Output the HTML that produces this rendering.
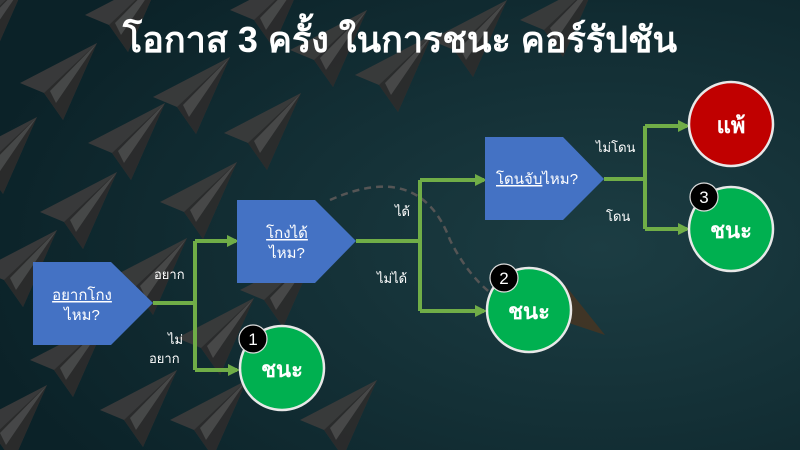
<!DOCTYPE html>
<html><head><meta charset="utf-8"><style>
html,body{margin:0;padding:0;width:800px;height:450px;overflow:hidden;background:#0f2a30}
svg{display:block}
text{font-family:"Liberation Sans","Noto Sans CJK SC","WenQuanYi Zen Hei",sans-serif;fill:#fff}
</style></head><body>
<svg width="800" height="450" viewBox="0 0 800 450" xmlns="http://www.w3.org/2000/svg">
<defs>
<radialGradient id="bg" cx="0.75" cy="0.55" r="0.8">
<stop offset="0" stop-color="#1c3d43"/><stop offset="1" stop-color="#0b2228"/>
</radialGradient>
<g id="pl">
<path d="M77,0 L0,40 L24,50 L43,77 Z" fill="#3b3b3b"/>
<path d="M77,0 L24,50 L43,77 Z" fill="#2c2c2c"/>
<path d="M77,0 L30,48 L36,60 Z" fill="#4a4a4a"/>
</g>
<marker id="ar" markerWidth="12" markerHeight="12" refX="9" refY="6" orient="auto" markerUnits="userSpaceOnUse">
<path d="M0,0 L12,6 L0,12 Z" fill="#70ad47"/></marker>
</defs>
<rect width="800" height="450" fill="url(#bg)"/>
<g opacity="0.95">
<use href="#pl" x="20" y="43"/><use href="#pl" x="153" y="57"/><use href="#pl" x="224" y="93"/>
<use href="#pl" x="290" y="10"/><use href="#pl" x="-40" y="117"/><use href="#pl" x="88" y="103"/>
<use href="#pl" x="-50" y="-20"/><use href="#pl" x="85" y="-25"/><use href="#pl" x="230" y="-30"/>
<use href="#pl" x="355" y="35"/><use href="#pl" x="160" y="162"/><use href="#pl" x="40" y="172"/>
<use href="#pl" x="-20" y="230"/><use href="#pl" x="110" y="238"/><use href="#pl" x="177" y="298"/>
<use href="#pl" x="30" y="320"/><use href="#pl" x="-30" y="385"/><use href="#pl" x="100" y="370"/>
<use href="#pl" x="170" y="380"/><use href="#pl" x="240" y="250"/><use href="#pl" x="430" y="0"/>
<use href="#pl" x="520" y="-20"/><use href="#pl" x="300" y="380"/>
</g>
<path d="M498,305 L565,285 L605,335 L560,320 Z" fill="#4a3520" opacity="0.8"/>
<path d="M330,200 Q420,160 450,240 Q470,280 500,300" fill="none" stroke="#555" stroke-width="2.5" stroke-dasharray="7,5"/>
<text x="400" y="52" text-anchor="middle" font-size="36" font-weight="bold">โอกาส 3 ครั้ง ในการชนะ คอร์รัปชัน</text>
<g stroke="#70ad47" stroke-width="4" fill="none">
<path d="M153,303 H195"/><path d="M195,241 V370"/>
<path d="M195,241 H236" marker-end="url(#ar)"/><path d="M195,370 H237" marker-end="url(#ar)"/>
<path d="M356,241 H420"/><path d="M420,180 V311"/>
<path d="M420,180 H484" marker-end="url(#ar)"/><path d="M420,311 H484" marker-end="url(#ar)"/>
<path d="M604,179 H645"/><path d="M645,126 V229"/>
<path d="M645,126 H687" marker-end="url(#ar)"/><path d="M645,229 H687" marker-end="url(#ar)"/>
</g>
<path d="M33,262 H111 L153,303 L111,345 H33 Z" fill="#4472c4"/>
<path d="M237,200 H315 L356,241 L315,283 H237 Z" fill="#4472c4"/>
<path d="M485,137 H563 L604,179 L563,220 H485 Z" fill="#4472c4"/>
<text x="82" y="300" text-anchor="middle" font-size="15" text-decoration="underline">อยากโกง</text>
<text x="82" y="320" text-anchor="middle" font-size="15">ไหม?</text>
<text x="287" y="238" text-anchor="middle" font-size="15" text-decoration="underline">โกงได้</text>
<text x="287" y="258" text-anchor="middle" font-size="15">ไหม?</text>
<text x="496" y="184" font-size="15"><tspan text-decoration="underline">โดนจับ</tspan>ไหม?</text>
<g font-size="13">
<text x="154" y="279">อยาก</text>
<text x="168" y="344">ไม่</text>
<text x="149" y="363">อยาก</text>
<text x="395" y="216">ได้</text>
<text x="377" y="283">ไม่ได้</text>
<text x="596" y="152">ไม่โดน</text>
<text x="606" y="221">โดน</text>
</g>
<g stroke="#e8e8e8" stroke-width="2.5">
<circle cx="282" cy="368" r="42" fill="#00b050"/>
<circle cx="529" cy="310" r="42" fill="#00b050"/>
<circle cx="731" cy="124" r="42" fill="#c00000"/>
<circle cx="731" cy="229" r="42" fill="#00b050"/>
</g>
<g font-size="22" font-weight="bold" text-anchor="middle">
<text x="282" y="377">ชนะ</text><text x="529" y="319">ชนะ</text>
<text x="731" y="133">แพ้</text><text x="731" y="238">ชนะ</text>
</g>
<g stroke="#ddd" stroke-width="1.2" fill="#000">
<circle cx="253" cy="339" r="14"/><circle cx="504" cy="278" r="14"/><circle cx="704" cy="197" r="14"/>
</g>
<g font-size="17" text-anchor="middle">
<text x="253" y="345">1</text><text x="504" y="284">2</text><text x="704" y="203">3</text>
</g>
</svg>
</body></html>
